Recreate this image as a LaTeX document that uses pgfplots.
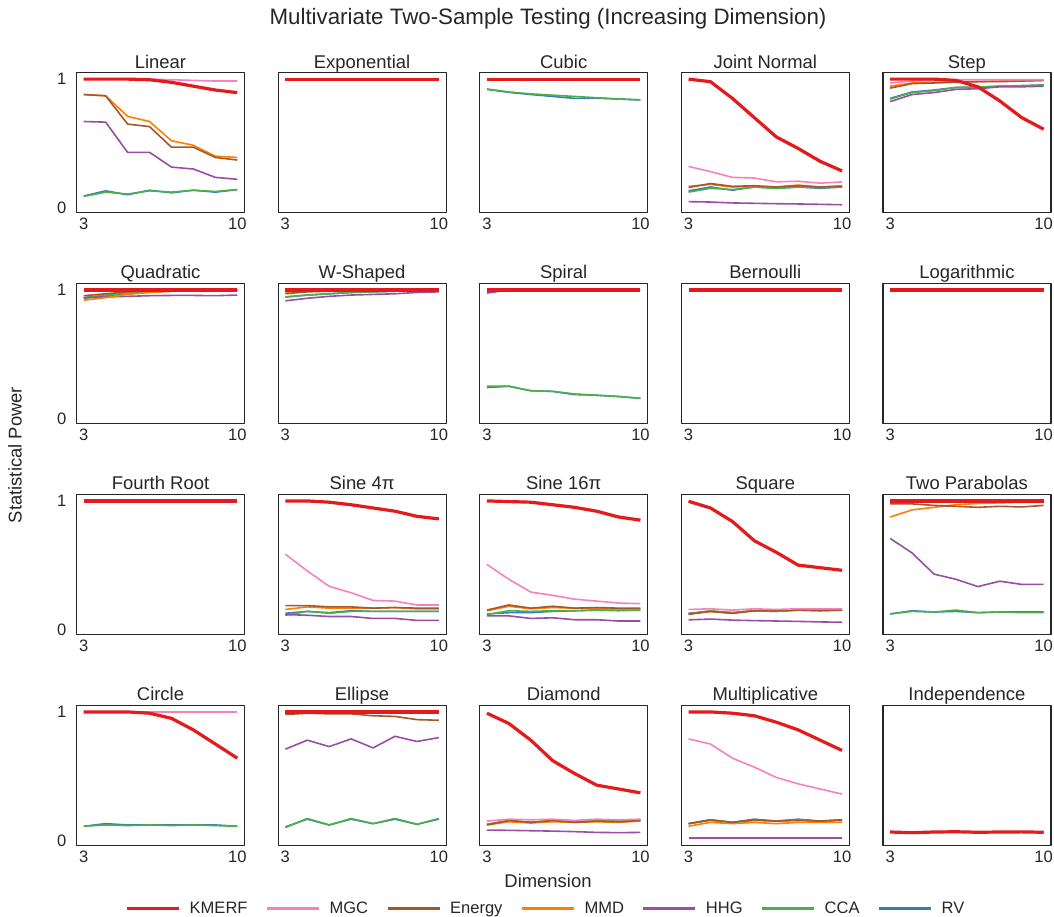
\documentclass[border=0pt]{standalone}
\usepackage{fontspec}
\setmainfont{Liberation Sans}
\usepackage{pgfplots}
\usepackage{pgfplotstable}
\pgfplotsset{compat=1.18}

\definecolor{cK}{HTML}{E41A1C}
\definecolor{cM}{HTML}{F781BF}
\definecolor{cE}{HTML}{A65628}
\definecolor{cD}{HTML}{FF7F00}
\definecolor{cH}{HTML}{984EA3}
\definecolor{cC}{HTML}{4DAF4A}
\definecolor{cR}{HTML}{377EB8}
\definecolor{fg}{HTML}{262626}

\pgfplotsset{
  sK/.style={cK, line width=3.2bp},
  sM/.style={cM, line width=1.6bp},
  sE/.style={cE, line width=1.6bp},
  sD/.style={cD, line width=1.6bp},
  sH/.style={cH, line width=1.6bp},
  sC/.style={cC, line width=1.6bp},
  sR/.style={cR, line width=1.6bp},
  every axis title shift=0pt,
  panel/.style={
    scale only axis, width=168bp, height=140bp,
    xmin=2.67, xmax=10.33, ymin=-0.04, ymax=1.05,
    xtick={3,10}, ytick=\empty,
    major tick length=0pt,
    axis line style={fg, line width=1.2bp},
    tick label style={font=\fontsize{16.6}{18}\selectfont, text=fg, inner sep=0pt},
    xticklabel style={yshift=-5bp},
    /pgf/number format/assume math mode=true,
    title style={font=\fontsize{18.5}{22}\selectfont, text=fg, at={(0.5,1)}, anchor=base, yshift=4.5bp, inner sep=0pt},
    anchor=north west,
    line join=round,
  },
  ycol/.style={ytick={0,1}, yticklabels={0,1}, yticklabel style={xshift=-10bp}},
}

\newcommand{\plotall}[1]{%
  \addplot[sR] table[x=d,y=R]{#1};
  \addplot[sC] table[x=d,y=C]{#1};
  \addplot[sH] table[x=d,y=H]{#1};
  \addplot[sD] table[x=d,y=D]{#1};
  \addplot[sE] table[x=d,y=E]{#1};
  \addplot[sM] table[x=d,y=M]{#1};
  \addplot[sK] table[x=d,y=K]{#1};
}

\pgfplotstableread{
d K M E D H C R
3 1.000 1.000 0.88 0.88 0.67 0.087 0.09
4 1.000 1.000 0.87 0.87 0.665 0.12 0.13
5 1.000 1.000 0.65 0.71 0.43 0.105 0.10
6 0.995 1.000 0.63 0.67 0.43 0.13 0.135
7 0.975 0.995 0.47 0.52 0.315 0.12 0.115
8 0.945 0.99 0.47 0.485 0.30 0.135 0.135
9 0.915 0.985 0.39 0.40 0.235 0.125 0.12
10 0.895 0.985 0.37 0.39 0.22 0.14 0.14
}\tLinear

\pgfplotstableread{
d K M E D H C R
3 1 1 1 1 1 1 1
4 1 1 1 1 1 1 1
5 1 1 1 1 1 1 1
6 1 1 1 1 1 1 1
7 1 1 1 1 1 1 1
8 1 1 1 1 1 1 1
9 1 1 1 1 1 1 1
10 1 1 1 1 1 1 1
}\tOnes

\pgfplotstableread{
d K M E D H C R
3 1 1 1 1 1 0.923 0.92
4 1 1 1 1 1 0.90 0.897
5 1 1 1 1 1 0.885 0.88
6 1 1 1 1 1 0.875 0.865
7 1 1 1 1 1 0.865 0.85
8 1 1 1 1 1 0.855 0.852
9 1 1 1 1 1 0.845 0.845
10 1 1 1 1 1 0.838 0.838
}\tCubic

\pgfplotstableread{
d K M E D H C R
3 1.0 0.32 0.156 0.165 0.046 0.12 0.13
4 0.98 0.28 0.187 0.18 0.043 0.15 0.16
5 0.85 0.235 0.165 0.16 0.036 0.14 0.135
6 0.70 0.23 0.17 0.165 0.033 0.16 0.16
7 0.55 0.20 0.16 0.16 0.03 0.15 0.15
8 0.46 0.205 0.17 0.175 0.028 0.16 0.16
9 0.36 0.19 0.16 0.16 0.025 0.155 0.15
10 0.285 0.20 0.165 0.17 0.022 0.16 0.16
}\tJoint

\pgfplotstableread{
d K M E D H C R
3 1 0.97 0.93 0.945 0.825 0.845 0.85
4 1 0.985 0.965 0.97 0.88 0.895 0.90
5 1 0.99 0.97 0.975 0.895 0.91 0.915
6 0.99 0.995 0.975 0.98 0.92 0.935 0.935
7 0.94 0.995 0.98 0.98 0.925 0.94 0.935
8 0.83 0.995 0.98 0.985 0.94 0.945 0.945
9 0.70 0.995 0.985 0.985 0.94 0.95 0.945
10 0.61 0.995 0.99 0.99 0.945 0.955 0.955
}\tStep

\pgfplotstableread{
d K M E D H C R
3 1 1 0.955 0.92 0.94 0.94 0.935
4 1 1 0.97 0.94 0.945 0.96 0.955
5 1 1 0.985 0.965 0.95 0.975 0.97
6 1 1 0.995 0.98 0.955 0.985 0.985
7 1 1 1 0.99 0.957 0.99 0.99
8 1 1 1 0.995 0.957 0.995 0.995
9 1 1 1 1 0.955 1 1
10 1 1 1 1 0.96 1 1
}\tQuad

\pgfplotstableread{
d K M E D H C R
3 1 1 0.97 0.98 0.915 0.945 0.945
4 1 1 0.985 0.99 0.935 0.96 0.96
5 1 1 0.99 0.995 0.95 0.97 0.97
6 1 1 0.995 1 0.96 0.98 0.98
7 1 1 1 1 0.965 0.985 0.985
8 1 1 1 1 0.97 0.99 0.99
9 1 1 1 1 0.98 0.995 0.995
10 1 1 1 1 0.985 0.995 0.995
}\tW

\pgfplotstableread{
d K M E D H C R
3 1 1 1 1 0.975 0.25 0.24
4 1 1 1 1 1 0.25 0.25
5 1 1 1 1 1 0.215 0.215
6 1 1 1 1 1 0.21 0.21
7 1 1 1 1 1 0.19 0.185
8 1 1 1 1 1 0.18 0.18
9 1 1 1 1 1 0.17 0.17
10 1 1 1 1 1 0.156 0.156
}\tSpiral

\pgfplotstableread{
d K M E D H C R
3 1.0 0.585 0.185 0.155 0.115 0.11 0.125
4 1.0 0.455 0.185 0.175 0.11 0.14 0.14
5 0.99 0.335 0.175 0.165 0.10 0.125 0.13
6 0.97 0.285 0.175 0.165 0.10 0.14 0.145
7 0.945 0.225 0.165 0.165 0.085 0.14 0.14
8 0.92 0.22 0.17 0.17 0.085 0.14 0.14
9 0.88 0.19 0.165 0.16 0.07 0.14 0.14
10 0.86 0.19 0.165 0.16 0.07 0.14 0.14
}\tSineA

\pgfplotstableread{
d K M E D H C R
3 1.0 0.505 0.15 0.145 0.105 0.115 0.12
4 0.995 0.39 0.19 0.18 0.105 0.145 0.13
5 0.99 0.29 0.165 0.16 0.085 0.14 0.13
6 0.97 0.265 0.18 0.17 0.09 0.145 0.14
7 0.95 0.235 0.165 0.165 0.075 0.145 0.145
8 0.92 0.22 0.17 0.165 0.075 0.15 0.15
9 0.875 0.205 0.165 0.16 0.065 0.145 0.15
10 0.85 0.20 0.165 0.16 0.065 0.15 0.15
}\tSineB

\pgfplotstableread{
d K M E D H C R
3 0.997 0.155 0.118 0.118 0.074 0.12 0.125
4 0.945 0.16 0.14 0.14 0.08 0.145 0.14
5 0.84 0.15 0.125 0.125 0.072 0.13 0.13
6 0.69 0.16 0.145 0.145 0.068 0.145 0.145
7 0.60 0.155 0.145 0.145 0.065 0.14 0.14
8 0.50 0.16 0.15 0.15 0.062 0.15 0.15
9 0.48 0.16 0.15 0.15 0.058 0.145 0.145
10 0.46 0.16 0.15 0.15 0.055 0.15 0.15
}\tSquare

\pgfplotstableread{
d K M E D H C R
3 1 1 0.977 0.875 0.708 0.12 0.12
4 1 1 0.977 0.93 0.595 0.14 0.145
5 1 1 0.965 0.95 0.43 0.135 0.135
6 1 1 0.958 0.97 0.39 0.15 0.14
7 1 1 0.95 0.98 0.333 0.13 0.13
8 1 1 0.958 0.985 0.375 0.135 0.135
9 1 1 0.953 0.99 0.35 0.13 0.135
10 1 1 0.965 0.99 0.35 0.13 0.135
}\tTwoPar

\pgfplotstableread{
d K M E D H C R
3 1 1 1 1 1 0.11 0.11
4 1 1 1 1 1 0.12 0.13
5 1 1 1 1 1 0.115 0.12
6 0.99 1 1 1 1 0.12 0.12
7 0.95 1 1 1 1 0.115 0.12
8 0.86 1 1 1 1 0.12 0.12
9 0.75 1 1 1 1 0.115 0.12
10 0.64 1 1 1 1 0.11 0.11
}\tCircle

\pgfplotstableread{
d K M E D H C R
3 1 1 0.98 1 0.71 0.10 0.105
4 1 1 0.99 1 0.78 0.17 0.165
5 1 1 0.985 1 0.73 0.12 0.12
6 1 1 0.985 1 0.79 0.17 0.165
7 1 1 0.97 1 0.72 0.13 0.13
8 1 1 0.965 1 0.81 0.17 0.165
9 1 1 0.94 1 0.77 0.125 0.125
10 1 1 0.935 1 0.80 0.17 0.165
}\tEllipse

\pgfplotstableread{
d K M E D H C R
3 0.99 0.15 0.12 0.12 0.08 0.125 0.125
4 0.91 0.165 0.155 0.145 0.078 0.155 0.15
5 0.78 0.16 0.14 0.135 0.075 0.14 0.14
6 0.62 0.165 0.155 0.145 0.072 0.155 0.15
7 0.52 0.155 0.14 0.14 0.068 0.14 0.145
8 0.43 0.165 0.15 0.145 0.062 0.155 0.15
9 0.40 0.16 0.145 0.14 0.06 0.15 0.15
10 0.37 0.165 0.155 0.15 0.062 0.16 0.16
}\tDiamond

\pgfplotstableread{
d K M E D H C R
3 1 0.79 0.13 0.11 0.02 0.13 0.13
4 1 0.75 0.16 0.14 0.02 0.155 0.16
5 0.99 0.64 0.14 0.13 0.02 0.14 0.14
6 0.97 0.57 0.16 0.14 0.02 0.155 0.165
7 0.92 0.49 0.15 0.13 0.02 0.15 0.15
8 0.86 0.44 0.155 0.14 0.02 0.16 0.165
9 0.78 0.40 0.15 0.14 0.02 0.15 0.15
10 0.70 0.36 0.16 0.14 0.02 0.16 0.155
}\tMult

\pgfplotstableread{
d K M E D H C R
3 0.065 0.065 0.065 0.065 0.065 0.065 0.065
4 0.06 0.06 0.06 0.06 0.06 0.06 0.06
5 0.065 0.065 0.065 0.065 0.065 0.065 0.065
6 0.067 0.067 0.067 0.067 0.067 0.067 0.067
7 0.063 0.063 0.063 0.063 0.063 0.063 0.063
8 0.065 0.065 0.065 0.065 0.065 0.065 0.065
9 0.066 0.066 0.066 0.066 0.066 0.066 0.066
10 0.063 0.063 0.063 0.063 0.063 0.063 0.063
}\tIndep

\begin{document}
\begin{tikzpicture}
\useasboundingbox (0,0) rectangle (1054bp,917bp);

% Row 1
\begin{axis}[panel, ycol, at={(76.5bp,844.3bp)}, title={Linear}] \plotall{\tLinear} \end{axis}
\begin{axis}[panel, at={(278.1bp,844.3bp)}, title={Exponential}] \plotall{\tOnes} \end{axis}
\begin{axis}[panel, at={(479.7bp,844.3bp)}, title={Cubic}] \plotall{\tCubic} \end{axis}
\begin{axis}[panel, at={(681.3bp,844.3bp)}, title={Joint Normal}] \plotall{\tJoint} \end{axis}
\begin{axis}[panel, at={(882.9bp,844.3bp)}, title={Step}] \plotall{\tStep} \end{axis}
% Row 2
\begin{axis}[panel, ycol, at={(76.5bp,633.5bp)}, title={Quadratic}] \plotall{\tQuad} \end{axis}
\begin{axis}[panel, at={(278.1bp,633.5bp)}, title={W-Shaped}] \plotall{\tW} \end{axis}
\begin{axis}[panel, at={(479.7bp,633.5bp)}, title={Spiral}] \plotall{\tSpiral} \end{axis}
\begin{axis}[panel, at={(681.3bp,633.5bp)}, title={Bernoulli}] \plotall{\tOnes} \end{axis}
\begin{axis}[panel, at={(882.9bp,633.5bp)}, title={Logarithmic}] \plotall{\tOnes} \end{axis}
% Row 3
\begin{axis}[panel, ycol, at={(76.5bp,422.5bp)}, title={Fourth Root}] \plotall{\tOnes} \end{axis}
\begin{axis}[panel, at={(278.1bp,422.5bp)}, title={Sine 4π}] \plotall{\tSineA} \end{axis}
\begin{axis}[panel, at={(479.7bp,422.5bp)}, title={Sine 16π}] \plotall{\tSineB} \end{axis}
\begin{axis}[panel, at={(681.3bp,422.5bp)}, title={Square}] \plotall{\tSquare} \end{axis}
\begin{axis}[panel, at={(882.9bp,422.5bp)}, title={Two Parabolas}] \plotall{\tTwoPar} \end{axis}
% Row 4
\begin{axis}[panel, ycol, at={(76.5bp,211.5bp)}, title={Circle}] \plotall{\tCircle} \end{axis}
\begin{axis}[panel, at={(278.1bp,211.5bp)}, title={Ellipse}] \plotall{\tEllipse} \end{axis}
\begin{axis}[panel, at={(479.7bp,211.5bp)}, title={Diamond}] \plotall{\tDiamond} \end{axis}
\begin{axis}[panel, at={(681.3bp,211.5bp)}, title={Multiplicative}] \plotall{\tMult} \end{axis}
\begin{axis}[panel, at={(882.9bp,211.5bp)}, title={Independence}] \plotall{\tIndep} \end{axis}

% Legend
\begin{axis}[hide axis, scale only axis, width=10bp, height=10bp, at={(546bp,8.5bp)}, anchor=center,
  xmin=0, xmax=1, ymin=0, ymax=1,
  legend columns=7,
  legend image code/.code={\draw[#1, line width=3bp] (0bp,0bp) -- (52bp,0bp);},
  legend style={draw=none, fill=none, at={(0.5,0.5)}, anchor=center,
    font=\fontsize{16.6}{18}\selectfont, text=fg,
    /tikz/every even column/.append style={column sep=16bp},
    /tikz/every odd column/.append style={column sep=7bp}},
  ]
  \addlegendimage{cK}\addlegendentry{KMERF}
  \addlegendimage{cM}\addlegendentry{MGC}
  \addlegendimage{cE}\addlegendentry{Energy}
  \addlegendimage{cD}\addlegendentry{MMD}
  \addlegendimage{cH}\addlegendentry{HHG}
  \addlegendimage{cC}\addlegendentry{CCA}
  \addlegendimage{cR}\addlegendentry{RV}
\end{axis}

\node[font=\fontsize{22.4}{26}\selectfont, text=fg, anchor=base] at (548bp,892.5bp) {Multivariate Two-Sample Testing (Increasing Dimension)};
\node[font=\fontsize{18.5}{22}\selectfont, text=fg, anchor=base] at (548bp,30bp) {Dimension};
\node[font=\fontsize{18.5}{22}\selectfont, text=fg, rotate=90, anchor=center] at (15bp,462bp) {Statistical Power};
\end{tikzpicture}
\end{document}
